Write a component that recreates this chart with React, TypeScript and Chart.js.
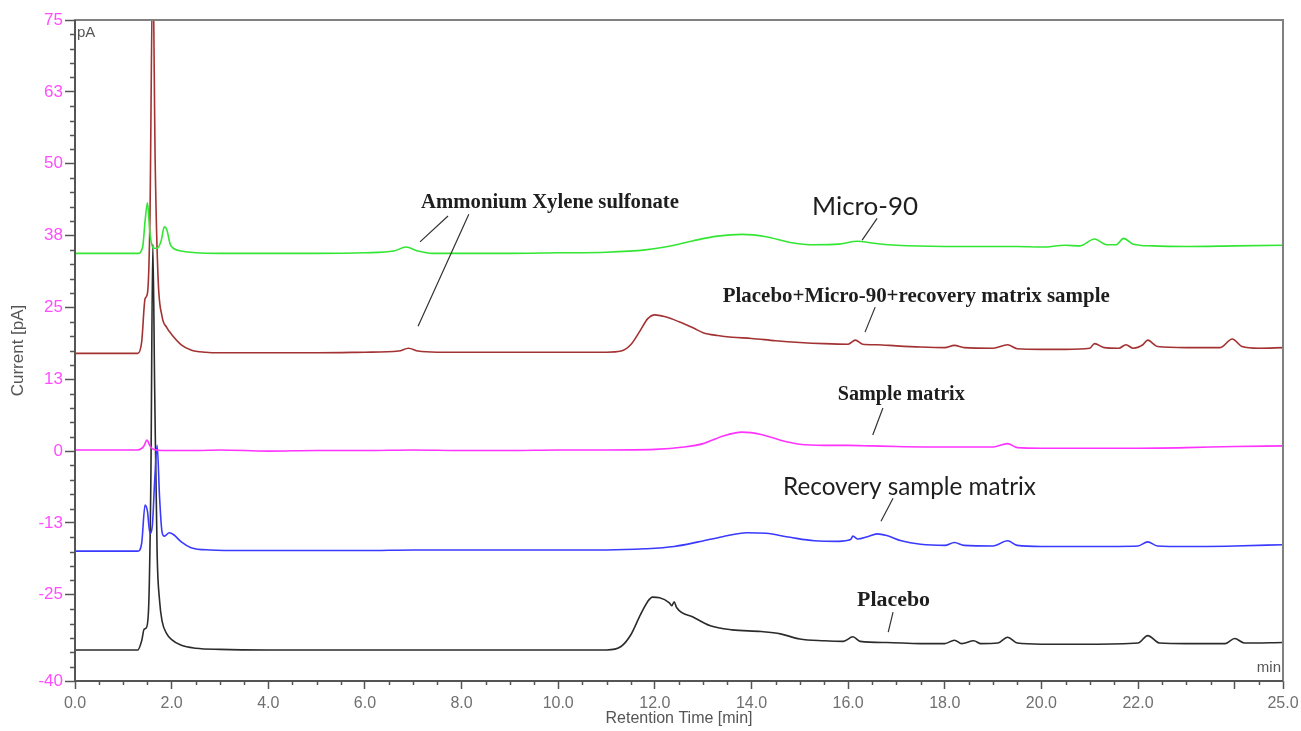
import React, { useEffect, useRef } from "react";
import { Chart, registerables } from "chart.js";

Chart.register(...registerables);

// ---------- DATA (retention time in min, current in pA) ----------
const micro90Time = [0, 1.3, 1.4, 1.45, 1.5, 1.55, 1.62, 1.7, 1.78, 1.85, 1.9, 1.97, 2.05, 2.2, 2.5, 3, 4, 5, 6, 6.6, 6.85, 7.1, 7.4, 8, 9, 10, 11, 11.8, 12.4, 12.8, 13.3, 13.8, 14.3, 14.8, 15.3, 15.8, 16.2, 16.5, 17, 18, 19, 19.5, 20, 20.5, 20.8, 21.1, 21.35, 21.55, 21.7, 21.9, 22.3, 23, 24, 25];
const micro90Current = [34.4, 34.4, 35.5, 40, 43.2, 38, 35.3, 35.3, 36.5, 39, 38.5, 36, 35.2, 34.8, 34.5, 34.4, 34.4, 34.4, 34.5, 34.8, 35.5, 34.8, 34.4, 34.4, 34.4, 34.5, 34.6, 35.0, 35.8, 36.6, 37.4, 37.7, 37.3, 36.3, 35.9, 36.0, 36.5, 36.2, 35.8, 35.6, 35.6, 35.6, 35.5, 35.8, 35.7, 36.9, 35.9, 35.9, 37.0, 36.0, 35.7, 35.6, 35.7, 35.8];

const mixTime = [0, 1.3, 1.38, 1.45, 1.5, 1.55, 1.61, 1.66, 1.72, 1.8, 1.9, 2.0, 2.2, 2.4, 2.7, 3, 4, 5, 6, 6.7, 6.9, 7.1, 7.5, 8, 9, 10, 11, 11.3, 11.5, 11.7, 11.85, 12.0, 12.2, 12.5, 12.8, 13.0, 13.3, 13.6, 14.0, 14.5, 15.0, 15.5, 16.0, 16.15, 16.3, 16.6, 17.0, 17.5, 18.0, 18.2, 18.4, 19.0, 19.3, 19.5, 20, 20.5, 21.0, 21.1, 21.3, 21.6, 21.75, 21.9, 22.1, 22.2, 22.4, 23, 23.7, 23.95, 24.15, 24.5, 25];
const mixCurrent = [17.0, 17.0, 19, 26.5, 27.5, 40, 85, 50, 30, 23.5, 21.5, 20.3, 18.5, 17.6, 17.2, 17.1, 17.1, 17.1, 17.2, 17.4, 17.9, 17.4, 17.2, 17.2, 17.2, 17.2, 17.2, 17.4, 18.5, 21.0, 23.0, 23.7, 23.4, 22.5, 21.4, 20.6, 20.1, 19.8, 19.6, 19.2, 18.9, 18.7, 18.6, 19.3, 18.6, 18.5, 18.3, 18.1, 18.0, 18.4, 18.0, 17.9, 18.5, 17.8, 17.7, 17.7, 17.9, 18.7, 18.0, 17.9, 18.5, 17.9, 18.5, 19.3, 18.2, 18.0, 18.0, 19.5, 18.2, 17.9, 18.0];

const sampleTime = [0, 1.3, 1.42, 1.49, 1.55, 1.62, 1.8, 2.5, 3, 4, 5, 6, 7, 8, 9, 10, 11, 12.0, 12.6, 13.0, 13.4, 13.8, 14.2, 14.6, 15.0, 15.5, 16.0, 16.5, 17, 18, 19, 19.3, 19.5, 20, 21, 22, 23, 24, 25];
const sampleCurrent = [0.2, 0.2, 0.8, 1.9, 0.9, 0.3, 0.1, 0.1, 0.2, 0.0, 0.1, 0.1, 0.2, 0.1, 0.1, 0.2, 0.2, 0.3, 0.7, 1.3, 2.6, 3.3, 2.9, 1.9, 1.2, 1.0, 1.0, 0.9, 0.8, 0.7, 0.7, 1.3, 0.6, 0.5, 0.5, 0.5, 0.6, 0.8, 0.9];

const recoveryTime = [0, 1.3, 1.38, 1.45, 1.5, 1.55, 1.6, 1.65, 1.7, 1.75, 1.8, 1.85, 1.95, 2.05, 2.2, 2.4, 2.8, 3.5, 4, 5, 6, 7, 8, 9, 10, 11, 11.8, 12.4, 12.9, 13.4, 13.9, 14.3, 14.8, 15.3, 15.8, 16.05, 16.1, 16.2, 16.4, 16.6, 16.8, 17.1, 17.5, 18.0, 18.2, 18.4, 19.0, 19.3, 19.5, 20, 21, 22.0, 22.2, 22.4, 23, 24, 25];
const recoveryCurrent = [-17.4, -17.4, -16, -9.4, -10.5, -14.3, -13, -5, 1.0, -8, -14, -14.8, -14.2, -14.6, -15.8, -16.8, -17.2, -17.3, -17.3, -17.3, -17.3, -17.2, -17.2, -17.2, -17.2, -17.2, -17.0, -16.6, -15.8, -14.9, -14.2, -14.3, -15.0, -15.6, -15.7, -15.4, -14.8, -15.3, -14.9, -14.4, -14.7, -15.6, -16.2, -16.4, -15.9, -16.4, -16.5, -15.6, -16.4, -16.6, -16.6, -16.5, -15.8, -16.5, -16.6, -16.5, -16.3];

const placeboTime = [0, 1.3, 1.38, 1.43, 1.47, 1.52, 1.57, 1.61, 1.65, 1.7, 1.75, 1.8, 1.9, 2.0, 2.2, 2.5, 3, 4, 5, 6, 7, 8, 9, 10, 11, 11.3, 11.5, 11.7, 11.85, 11.95, 12.1, 12.3, 12.35, 12.4, 12.45, 12.8, 13.15, 13.6, 14.2, 14.6, 15.0, 15.5, 15.9, 16.1, 16.25, 16.8, 17.5, 18.0, 18.2, 18.35, 18.6, 18.75, 19.1, 19.3, 19.5, 20, 21, 22.0, 22.2, 22.45, 23, 23.8, 24.0, 24.2, 25];
const placeboCurrent = [-34.6, -34.6, -33, -31, -30.8, -28, -5, 36, 10, -18, -26, -29.5, -31.8, -32.8, -33.8, -34.3, -34.5, -34.6, -34.6, -34.6, -34.6, -34.6, -34.6, -34.6, -34.6, -34.0, -32.0, -28.5, -26.2, -25.4, -25.5, -26.4, -26.9, -26.2, -27.2, -28.9, -30.4, -31.1, -31.4, -31.8, -32.7, -33.0, -33.1, -32.3, -33.1, -33.3, -33.5, -33.5, -32.9, -33.5, -33.0, -33.5, -33.4, -32.4, -33.4, -33.6, -33.6, -33.4, -32.1, -33.4, -33.5, -33.5, -32.6, -33.4, -33.3];

const seriesLabels = ["Micro-90", "Placebo+Micro-90+recovery matrix sample", "Sample matrix", "Recovery sample matrix", "Placebo"];
const seriesColors = ["#33e633", "#a33232", "#ff33ff", "#3a3aff", "#2b2b2b"];

const yTickValues = [-40, -25, -12.5, 0, 12.5, 25, 37.5, 50, 62.5, 75];
const xTickValues = [0, 2, 4, 6, 8, 10, 12, 14, 16, 18, 20, 22, 24, 25];
const xMinorStep = 0.5;
const yMinorStep = 2.5;

// annotation labels: text, anchor (min, pA), font family/weight, target width
const annotationLabels = [
  { text: "Ammonium Xylene sulfonate", x: 9.83, y: 43.3, family: "'Liberation Serif', serif", weight: "bold", width: 258 },
  { text: "Micro-90", x: 16.35, y: 42.45, family: "Lato, 'Open Sans', sans-serif", weight: "normal", width: 106 },
  { text: "Placebo+Micro-90+recovery matrix sample", x: 17.41, y: 26.81, family: "'Liberation Serif', serif", weight: "bold", width: 387 },
  { text: "Sample matrix", x: 17.1, y: 9.76, family: "'Liberation Serif', serif", weight: "bold", width: 127 },
  { text: "Recovery sample matrix", x: 17.27, y: -6.24, family: "Lato, 'Open Sans', sans-serif", weight: "normal", width: 253 },
  { text: "Placebo", x: 16.94, y: -25.93, family: "'Liberation Serif', serif", weight: "bold", width: 73 },
];
// leader lines: [x1, y1, x2, y2] in (min, pA)
const leaderLines = [
  [7.72, 40.9, 7.14, 36.4],
  [8.15, 41.2, 7.1, 21.7],
  [16.6, 40.5, 16.29, 36.7],
  [16.56, 25.05, 16.35, 20.7],
  [16.72, 7.5, 16.51, 2.8],
  [16.93, -8.2, 16.68, -12.2],
  [16.93, -28.0, 16.83, -31.5],
];

const seriesTimes = [micro90Time, mixTime, sampleTime, recoveryTime, placeboTime];
const seriesValues = [micro90Current, mixCurrent, sampleCurrent, recoveryCurrent, placeboCurrent];

function fmtY(v: number) {
  return v < 0 ? String(-Math.round(-v)) : String(Math.round(v));
}

const decorPlugin = {
  id: "decor",
  afterDraw(chart: any) {
    const { ctx, chartArea: a } = chart;
    const xs = chart.scales.x;
    const ys = chart.scales.y;
    ctx.save();
    // minor ticks
    ctx.strokeStyle = "#555";
    ctx.lineWidth = 1.5;
    ctx.beginPath();
    for (let v = 0; v <= 25 + 1e-9; v += xMinorStep) {
      if (xTickValues.some((t) => Math.abs(t - v) < 1e-6)) continue;
      const px = Math.round(xs.getPixelForValue(v)) + 0.5;
      ctx.moveTo(px, a.bottom);
      ctx.lineTo(px, a.bottom + 4);
    }
    for (let v = -40; v <= 75 + 1e-9; v += yMinorStep) {
      if (yTickValues.some((t) => Math.abs(t - v) < 1e-6)) continue;
      const py = Math.round(ys.getPixelForValue(v)) + 0.5;
      ctx.moveTo(a.left - 5, py);
      ctx.lineTo(a.left, py);
    }
    ctx.stroke();
    // frame
    ctx.strokeStyle = "#808080";
    ctx.lineWidth = 2;
    ctx.strokeRect(a.left, a.top, a.right - a.left, a.bottom - a.top);
    ctx.strokeStyle = "#555";
    ctx.beginPath();
    ctx.moveTo(a.left, a.top);
    ctx.lineTo(a.left, a.bottom);
    ctx.lineTo(a.right, a.bottom);
    ctx.stroke();

    // unit labels
    ctx.fillStyle = "#555";
    ctx.font = "15px 'Liberation Sans', sans-serif";
    ctx.textBaseline = "middle";
    ctx.textAlign = "left";
    ctx.fillText("pA", a.left + 2, a.top + 13);
    ctx.textAlign = "right";
    ctx.fillText("min", a.right - 2, a.bottom - 13);

    // axis titles
    ctx.fillStyle = "#555";
    ctx.font = "16px 'Liberation Sans', sans-serif";
    ctx.textAlign = "center";
    ctx.fillText("Retention Time [min]", (a.left + a.right) / 2, 719);
    ctx.save();
    ctx.translate(18, (a.top + a.bottom) / 2);
    ctx.rotate(-Math.PI / 2);
    ctx.font = "17px 'Liberation Sans', sans-serif";
    ctx.fillText("Current [pA]", 0, 0);
    ctx.restore();

    // leader lines
    ctx.strokeStyle = "#333";
    ctx.lineWidth = 1.2;
    ctx.beginPath();
    for (const [x1, y1, x2, y2] of leaderLines) {
      ctx.moveTo(xs.getPixelForValue(x1), ys.getPixelForValue(y1));
      ctx.lineTo(xs.getPixelForValue(x2), ys.getPixelForValue(y2));
    }
    ctx.stroke();

    // annotation labels
    ctx.fillStyle = "#1e1e1e";
    ctx.textAlign = "center";
    ctx.textBaseline = "middle";
    for (const lab of annotationLabels) {
      ctx.font = `${lab.weight} 20px ${lab.family}`;
      const w = ctx.measureText(lab.text).width;
      const size = (20 * lab.width) / w;
      ctx.font = `${lab.weight} ${size.toFixed(2)}px ${lab.family}`;
      ctx.fillText(lab.text, xs.getPixelForValue(lab.x), ys.getPixelForValue(lab.y));
    }
    ctx.restore();
  },
};

export default function App() {
  const ref = useRef<HTMLCanvasElement | null>(null);
  useEffect(() => {
    if (!ref.current) return;
    const datasets = seriesLabels.map((label, i) => ({
      label,
      data: seriesTimes[i].map((t, j) => ({ x: t, y: seriesValues[i][j] })),
      borderColor: seriesColors[i],
      backgroundColor: seriesColors[i],
      borderWidth: 1.6,
      pointRadius: 0,
      cubicInterpolationMode: "monotone" as const,
      fill: false,
    }));
    const chart = new Chart(ref.current, {
      type: "line",
      data: { datasets },
      options: {
        animation: false,
        responsive: true,
        maintainAspectRatio: false,
        layout: { padding: { left: 0, top: 20, right: 18, bottom: 0 } },
        plugins: { legend: { display: false }, tooltip: { enabled: false } },
        scales: {
          x: {
            type: "linear",
            min: 0,
            max: 25,
            afterFit: (s: any) => {
              s.height = 50;
              s.paddingLeft = 0;
              s.paddingRight = 0;
            },
            afterBuildTicks: (s: any) => {
              s.ticks = xTickValues.map((v) => ({ value: v }));
            },
            border: { display: false },
            grid: { drawOnChartArea: false, tickLength: 8, color: "#555", tickWidth: 1.5 },
            ticks: {
              autoSkip: false,
              maxRotation: 0,
              padding: 5,
              color: "#707070",
              font: { family: "'Liberation Sans', sans-serif", size: 16 },
              callback: (v: any) => (Number(v) === 24 ? "" : Number(v).toFixed(1)),
            },
          },
          y: {
            type: "linear",
            min: -40,
            max: 75,
            afterFit: (s: any) => {
              s.width = 75;
              s.paddingTop = 0;
              s.paddingBottom = 0;
            },
            afterBuildTicks: (s: any) => {
              s.ticks = yTickValues.map((v) => ({ value: v }));
            },
            border: { display: false },
            grid: { drawOnChartArea: false, tickLength: 10, color: "#555", tickWidth: 1.5 },
            ticks: {
              autoSkip: false,
              padding: 2,
              color: "#ff4dff",
              font: { family: "'Liberation Sans', sans-serif", size: 17 },
              callback: (v: any) => fmtY(Number(v)),
            },
          },
        },
      },
      plugins: [decorPlugin],
    });
    return () => chart.destroy();
  }, []);
  return (
    <div style={{ position: "fixed", left: 0, top: 0, width: 1301, height: 731, background: "#fff" }}>
      <canvas ref={ref} />
    </div>
  );
}
